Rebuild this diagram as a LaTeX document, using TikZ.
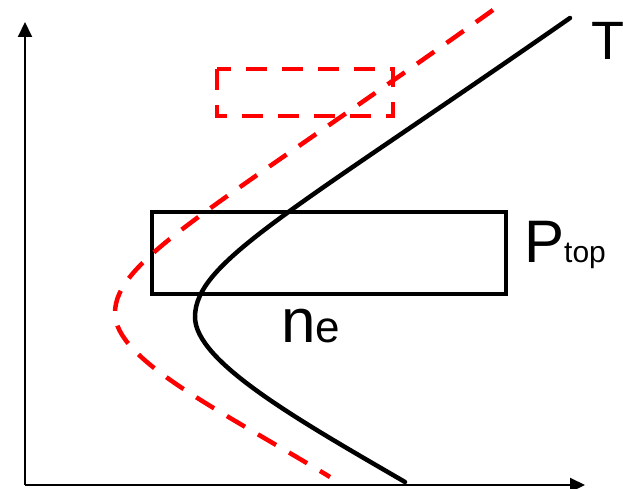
\documentclass[tikz,border=0pt]{standalone}
\usepackage{fontspec}
\setmainfont{Liberation Sans}
\usetikzlibrary{arrows.meta}
\begin{document}
\begin{tikzpicture}[x=1pt,y=-1pt,
  axis/.style={line width=2pt,-{Triangle[length=15pt,width=14pt]}},
  blackcurve/.style={line width=4.5pt,line cap=round},
  redcurve/.style={line width=4.5pt,red,dash pattern=on 21pt off 15pt},
  boxblack/.style={line width=4pt},
  lbl/.style={inner sep=0pt,anchor=base west}]
\useasboundingbox (0,0) rectangle (623,489);
\coordinate (O) at (25,485);
\coordinate (Ytop) at (25,22);
\coordinate (Xend) at (585,485);
\draw[axis] (O) -- (Ytop);
\draw[axis] (O) -- (Xend);
% black rectangle
\draw[boxblack] (152,212) rectangle (506,294);
% red dashed rectangle
\draw[redcurve] (217,69) rectangle (393,116);
% black curve
\coordinate (bTop) at (570,18);
\coordinate (bV) at (195,317);
\coordinate (bBot) at (405,482);
\draw[blackcurve] (bTop) .. controls (290,213) and (195,262) .. (bV)
  .. controls (195,362) and (300,421) .. (bBot);
% red dashed curve
\coordinate (rTop) at (493,10);
\coordinate (rV) at (115,313);
\coordinate (rBot) at (330,477);
\draw[redcurve] (rTop) .. controls (210,212) and (115,260) .. (rV)
  .. controls (115,360) and (220,410) .. (rBot);
% labels
\node[lbl] (T) at (591,60) {\fontsize{54}{54}\selectfont T};
\node[lbl] (P) at (524,262) {\fontsize{60}{60}\selectfont P\fontsize{30}{30}\selectfont top};
\node[lbl] (n) at (281,342) {\fontsize{62}{62}\selectfont n\fontsize{44}{44}\selectfont e};
\end{tikzpicture}
\end{document}
